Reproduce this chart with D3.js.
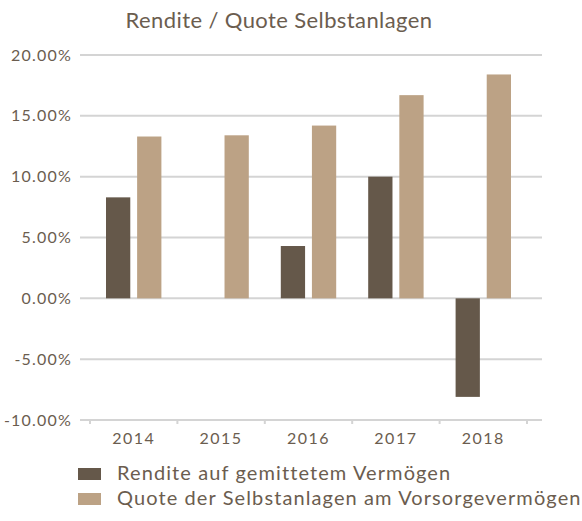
<!DOCTYPE html>
<html>
<head>
<meta charset="utf-8">
<script src="https://cdn.jsdelivr.net/npm/d3@7"></script>
<style>
  body { margin: 0; background: #fff; }
  svg text { font-family: 'Lato', 'Open Sans', sans-serif; fill: #6b5d4f; }
</style>
</head>
<body>
<div id="chart"></div>
<script>
// chart data
const years = ['2014', '2015', '2016', '2017', '2018'];
const seriesNames = ['Rendite auf gemittetem Vermögen', 'Quote der Selbstanlagen am Vorsorgevermögen'];
const rendite = [8.3, null, 4.3, 10.0, -8.1];
const quote = [13.3, 13.4, 14.2, 16.7, 18.4];
const yTicks = [-10, -5, 0, 5, 10, 15, 20];
const colors = ['#65584a', '#bca285'];

const width = 582, height = 521;

const svg = d3.select('#chart')
    .append('svg')
    .attr('width', width)
    .attr('height', height);

// Scales
const x0 = d3.scaleBand()
    .domain(years)
    .range([90, 527]);

const x1 = d3.scaleBand()
    .domain([0, 1])
    .range([16, x0.bandwidth() - 16])
    .paddingInner(0.22);

const y = d3.scaleLinear()
    .domain([-10, 20])
    .range([420, 55]);

// Gridlines
svg.append('g')
    .selectAll('line')
    .data(yTicks)
    .enter()
    .append('line')
    .attr('x1', 80)
    .attr('x2', 542)
    .attr('y1', d => y(d))
    .attr('y2', d => y(d))
    .attr('stroke', '#d4d4d4')
    .attr('stroke-width', 2);

// Y axis labels
const yAxis = svg.append('g')
    .attr('transform', 'translate(72,0)')
    .call(d3.axisLeft(y).tickValues(yTicks).tickSize(0).tickPadding(0)
        .tickFormat(d => d.toFixed(2) + '%'));
yAxis.select('.domain').remove();
yAxis.selectAll('text')
    .style('font-size', '16px')
    .style('letter-spacing', '1.2px')
    .attr('fill', '#6b5d4f');

// X axis with ticks between categories
const xAxisG = svg.append('g')
    .attr('transform', `translate(0,${y(-10)})`);
xAxisG.selectAll('.xtick')
    .data(years.concat(['end']))
    .enter()
    .append('line')
    .attr('x1', (d, i) => x0.range()[0] + i * x0.step())
    .attr('x2', (d, i) => x0.range()[0] + i * x0.step())
    .attr('y1', 0)
    .attr('y2', 4)
    .attr('stroke', '#d4d4d4')
    .attr('stroke-width', 2);
xAxisG.selectAll('.xlabel')
    .data(years)
    .enter()
    .append('text')
    .attr('x', d => x0(d) + x0.bandwidth() / 2)
    .attr('y', 24)
    .attr('text-anchor', 'middle')
    .style('font-size', '16px')
    .style('letter-spacing', '1.5px')
    .text(d => d);

// Bars
const barData = [];
years.forEach((yr, i) => {
    [rendite[i], quote[i]].forEach((v, s) => {
        if (v !== null) barData.push({year: yr, series: s, value: v});
    });
});

svg.append('g')
    .selectAll('rect')
    .data(barData)
    .enter()
    .append('rect')
    .attr('x', d => x0(d.year) + x1(d.series))
    .attr('width', x1.bandwidth())
    .attr('y', d => y(Math.max(0, d.value)))
    .attr('height', d => Math.abs(y(d.value) - y(0)))
    .attr('fill', d => colors[d.series]);

// Title
svg.append('text')
    .attr('x', 279)
    .attr('y', 28)
    .attr('text-anchor', 'middle')
    .style('font-size', '22px')
    .style('letter-spacing', '0.4px')
    .text('Rendite / Quote Selbstanlagen');

// Legend
const legend = svg.append('g')
    .selectAll('g')
    .data(seriesNames)
    .enter()
    .append('g')
    .attr('transform', (d, i) => `translate(78,${468 + i * 25})`);

legend.append('rect')
    .attr('width', 23)
    .attr('height', 12)
    .attr('fill', (d, i) => colors[i]);

legend.append('text')
    .attr('x', 39)
    .attr('y', 12)
    .style('font-size', '20px')
    .style('letter-spacing', '1.1px')
    .text(d => d);
</script>
</body>
</html>
